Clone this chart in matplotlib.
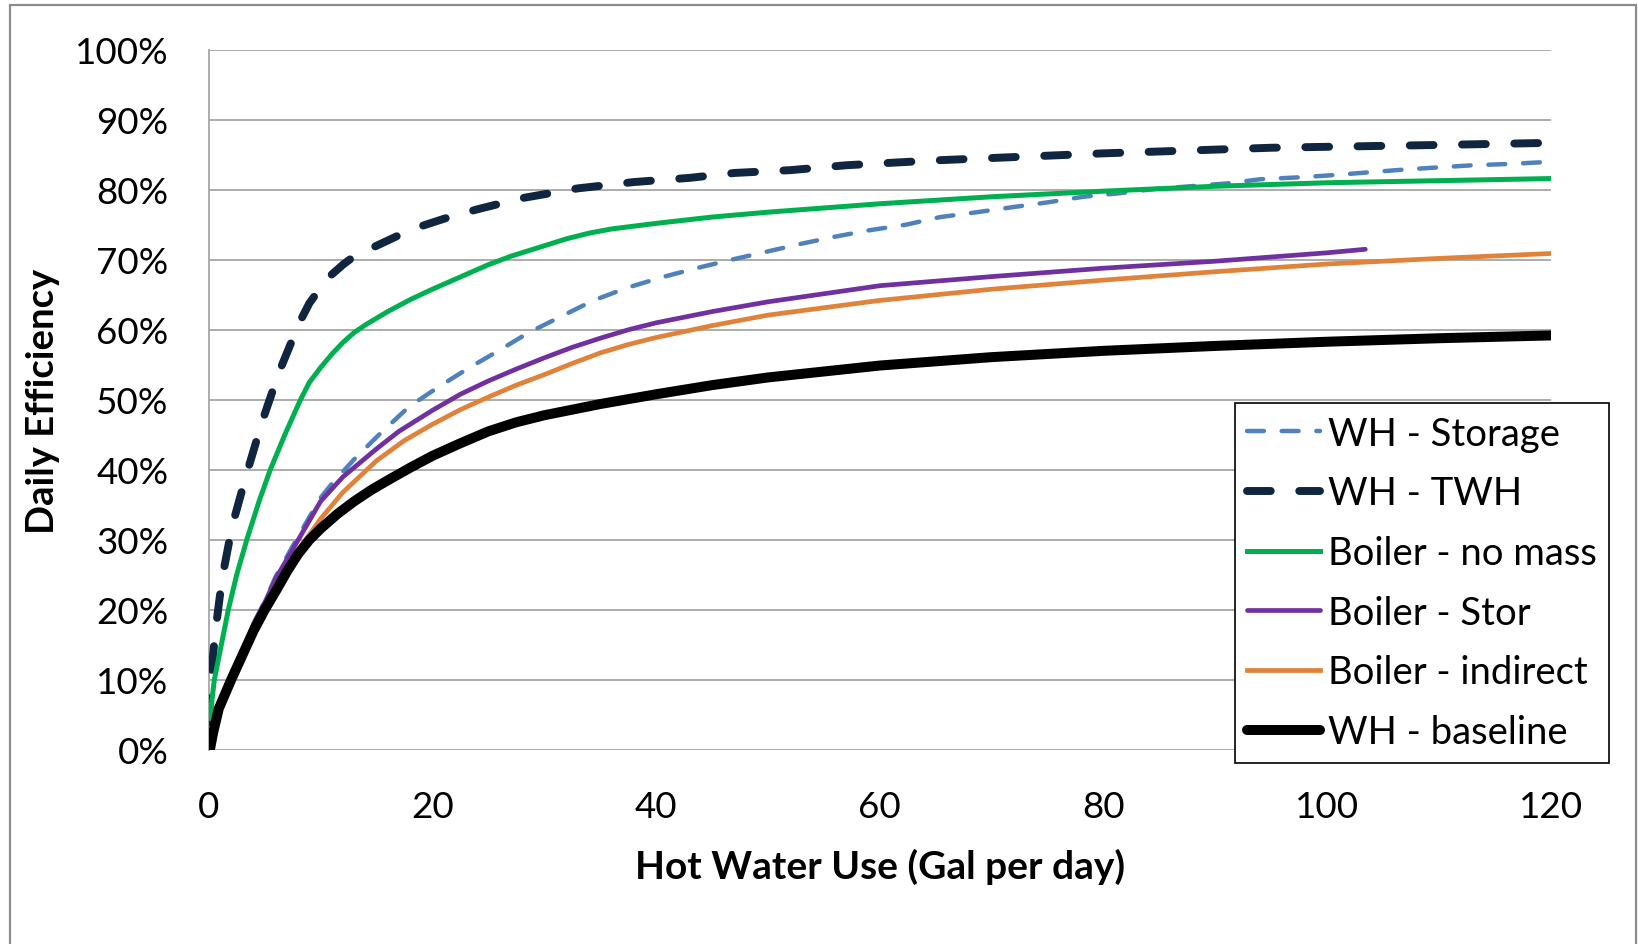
import matplotlib
matplotlib.use("Agg")
import matplotlib.pyplot as plt
from matplotlib.patches import Rectangle
from matplotlib.ticker import FuncFormatter

plt.rcParams["font.family"] = ["Lato", "DejaVu Sans"]

# WH - Storage
stor_x = [0.1, 0.4, 0.9, 2, 3, 4, 5, 6, 8, 10, 11, 13, 15.4, 17.9, 20.5, 23.2, 25.9, 28.6, 31.5,
          34.4, 37.4, 40.5, 43.6, 46.7, 50, 53, 56, 59, 62.3, 65.4, 68.7, 71.8, 75, 78.2, 81.4,
          84.5, 91, 94, 97.8, 100.6, 103.8, 107, 110, 113, 116.5, 120]
stor_y = [0, 2.5, 5.9, 10, 13.5, 18, 21.2, 24.8, 30.5, 36, 38, 41.5, 45.3, 49, 51.8, 54.5, 57, 59.6, 61.9,
          64.2, 66, 67.5, 68.8, 70, 71.2, 72.3, 73.3, 74.2, 75, 76.1, 76.8, 77.5, 78.2, 79, 79.5,
          80.1, 80.9, 81.5, 81.8, 82.1, 82.5, 82.9, 83.2, 83.5, 83.7, 84.0]

# WH - TWH
twh_x = [0.05, 0.1, 0.3, 0.6, 1.2, 2.1, 3.4, 4.8, 6.3, 8.1, 9, 10, 11, 12, 13, 15, 17, 19, 21.5, 24,
         28, 33, 38, 43, 47, 52, 57, 65, 80, 95, 110, 120]
twh_y = [4, 8, 12, 17, 24.5, 32, 39.5, 47, 54, 61, 63.8, 66, 67.9, 69.3, 70.5, 72, 73.5, 74.8, 76.1, 77.2,
         78.8, 80.2, 81.1, 81.7, 82.4, 82.8, 83.5, 84.2, 85.2, 86, 86.4, 86.7]

# Boiler - no mass
nomass_x = [0.1, 0.5, 1, 1.75, 2.5, 3.4, 4.5, 5.5, 6.8, 8.2, 9, 10, 11, 12, 13, 14, 16, 18, 20, 22,
            25, 27, 30, 32, 34, 36, 40, 45, 50, 60, 70, 80, 90, 100, 110, 120]
nomass_y = [4.5, 10, 14, 20, 25, 30, 35.5, 40, 45, 50, 52.5, 54.6, 56.5, 58.2, 59.6, 60.7, 62.6, 64.3,
            65.8, 67.2, 69.3, 70.5, 72, 73, 73.8, 74.4, 75.2, 76.1, 76.8, 78, 79, 79.8, 80.5, 81, 81.3, 81.6]

# Boiler - Stor
bstor_x = [0.1, 0.4, 0.9, 2, 3, 4, 5, 6, 8, 10, 12, 15, 17, 20, 22.5, 25, 27.5, 30, 32.5, 35, 37.5,
           40, 45, 50, 60, 70, 80, 90, 100, 103.4]
bstor_y = [0, 2.5, 5.9, 10, 13.5, 18, 21, 24.5, 30, 35.5, 39, 43, 45.5, 48.5, 50.8, 52.7, 54.4, 56.0,
           57.5, 58.8, 60.0, 61.0, 62.6, 64.0, 66.3, 67.6, 68.8, 69.8, 71.0, 71.5]

# Boiler - indirect
indir_x = [0.1, 0.4, 0.9, 2, 3, 4, 5, 6, 8, 10, 12, 15, 17.5, 20, 22.5, 25, 27.5, 30, 32.5, 35,
           37.5, 40, 45, 50, 60, 70, 80, 90, 100, 110, 120]
indir_y = [0, 2.5, 5.9, 10, 13.5, 17.5, 20.5, 23.5, 28.5, 33, 36.8, 41.3, 44.2, 46.5, 48.6, 50.4, 52.1,
           53.6, 55.2, 56.7, 57.9, 58.9, 60.6, 62.1, 64.2, 65.8, 67.1, 68.3, 69.4, 70.2, 70.9]

# WH - baseline
base_x = [0.1, 0.4, 0.9, 2, 3, 4, 5, 6, 7, 8, 9, 10, 11.5, 13, 14.5, 16, 18, 20, 22.5, 25, 27.5,
          30, 35, 40, 45, 50, 60, 70, 80, 90, 100, 110, 120]
base_y = [0, 2.5, 5.9, 10, 13.5, 17, 20, 22.7, 25.5, 28, 30, 31.6, 33.7, 35.5, 37.1, 38.5, 40.3, 42,
          43.8, 45.5, 46.8, 47.8, 49.4, 50.8, 52.1, 53.2, 54.9, 56.1, 57, 57.7, 58.3, 58.8, 59.2]

x_ticks = [0, 20, 40, 60, 80, 100, 120]
y_ticks = [0, 10, 20, 30, 40, 50, 60, 70, 80, 90, 100]

fig = plt.figure(figsize=(16.38, 9.45), dpi=100)
ax = fig.add_axes([208.7 / 1638, 1 - 751 / 945, (1551 - 208.7) / 1638, (751 - 50.7) / 945])

grid_c = "#A6A6A6"
for t in y_ticks:
    ax.axhline(t, color=grid_c, lw=1.3, zorder=1)

ax.plot(stor_x, stor_y, color="#4F81BD", lw=3.2, dashes=(3.8, 4.0), dash_capstyle="round",
        label="WH - Storage", zorder=3)
ax.plot(twh_x, twh_y, color="#10253F", lw=5.7, dashes=(3.0, 3.6), dash_capstyle="round",
        label="WH - TWH", zorder=3)
ax.plot(nomass_x, nomass_y, color="#00B050", lw=3.6, label="Boiler - no mass", zorder=3)
ax.plot(bstor_x, bstor_y, color="#7030A0", lw=3.4, label="Boiler - Stor", zorder=3,
        solid_capstyle="round")
ax.plot(indir_x, indir_y, color="#E0823A", lw=3.4, label="Boiler - indirect", zorder=3)
ax.plot(base_x, base_y, color="black", lw=7.2, label="WH - baseline", zorder=4,
        solid_capstyle="round")

ax.set_xlim(0, 120)
ax.set_ylim(0, 100)
ax.set_xticks(x_ticks)
ax.set_yticks(y_ticks)
ax.yaxis.set_major_formatter(FuncFormatter(lambda v, p: f"{v:.0f}%"))
ax.tick_params(length=0, labelsize=26.5)
ax.tick_params(axis="y", pad=29)
ax.tick_params(axis="x", pad=29)
for s in ["top", "right", "bottom"]:
    ax.spines[s].set_visible(False)
ax.spines["left"].set_color(grid_c)
ax.spines["left"].set_linewidth(1.3)

fig.text(880 / 1638, 1 - 867 / 945, "Hot Water Use (Gal per day)", ha="center", va="center",
         fontsize=28, fontweight="bold")
fig.text(43 / 1638, 1 - 401 / 945, "Daily Efficiency", ha="center", va="center",
         rotation=90, fontsize=27.5, fontweight="bold")

leg = ax.legend(loc="upper right", bbox_to_anchor=(1609 / 1638, 1 - 404 / 945),
                bbox_transform=fig.transFigure, borderaxespad=0, fontsize=27.5,
                fancybox=False, framealpha=1, edgecolor="black", handlelength=1.9,
                handletextpad=0.2, labelspacing=0.62, borderpad=0.33)
leg.get_frame().set_linewidth(1.2)

fig.patches.append(Rectangle((10 / 1638, -0.02), 1626 / 1638, 1.02 - 6 / 945,
                             transform=fig.transFigure, fill=False, edgecolor="#8C8C8C", lw=1.6))

fig.savefig("out.png", dpi=100)
